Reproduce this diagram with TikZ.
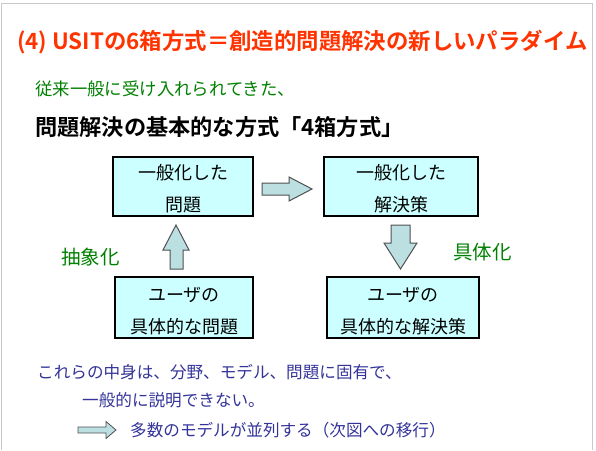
\documentclass[tikz,border=0pt]{standalone}
\usepackage{fontspec}
\newfontfamily\jp{Noto Sans CJK JP}
\newfontfamily\jpb{Noto Sans CJK JP Bold}
\usetikzlibrary{positioning}
\definecolor{titlered}{HTML}{FF3300}
\definecolor{dgreen}{HTML}{008000}
\definecolor{dblue}{HTML}{333399}
\definecolor{boxfill}{HTML}{CCFFFF}
\definecolor{arrfill}{HTML}{BCDFE2}
\definecolor{arrline}{HTML}{505050}
\definecolor{frame}{HTML}{C8C8C8}
\tikzset{
  box/.style={draw=black, line width=2pt, fill=boxfill, inner sep=0pt},
  boxtext/.style={font=\jp\fontsize{18}{18}\selectfont, anchor=center},
  blockarrow/.style={draw=arrline, line width=1pt, fill=arrfill, line join=miter},
  lbl/.style={font=\jp\fontsize{16.6}{16.6}\selectfont, anchor=west, inner sep=0pt}
}
\begin{document}
\begin{tikzpicture}[x=1pt,y=-1pt]
\useasboundingbox (0,0) rectangle (596,450);
% frame
\draw[frame, line width=1pt] (1,450) -- (1,3) -- (592,3) -- (592,450);
% title
\node[anchor=west, inner sep=0pt, text=titlered, font=\jpb\fontsize{22.4}{22.4}\selectfont] (title) at (17,42) {(4) USITの6箱方式＝創造的問題解決の新しいパラダイム};
\node[lbl, text=dgreen, font=\jp\fontsize{17.4}{17.4}\selectfont] (sub1) at (35,89) {従来一般に受け入れられてきた、};
\node[anchor=west, inner sep=0pt, font=\jpb\fontsize{22.2}{22.2}\selectfont] (sub2) at (35,127) {問題解決の基本的な方式「4箱方式」};
% boxes
\node[box, minimum width=140pt, minimum height=59pt] (b1) at (183,186.5) {};
\node[box, minimum width=154pt, minimum height=59pt] (b2) at (401,186.5) {};
\node[box, minimum width=138pt, minimum height=61pt] (b3) at (184,307.5) {};
\node[box, minimum width=152pt, minimum height=61pt] (b4) at (403,307.5) {};
\node[boxtext] (t1a) at (183,173) {一般化した};
\node[boxtext] (t1b) at (183,205) {問題};
\node[boxtext] (t2a) at (401,173) {一般化した};
\node[boxtext] (t2b) at (401,205) {解決策};
\node[boxtext] (t3a) at (184,295) {ユーザの};
\node[boxtext] (t3b) at (184,327) {具体的な問題};
\node[boxtext] (t4a) at (403,295) {ユーザの};
\node[boxtext] (t4b) at (403,327) {具体的な解決策};
% block arrows
\draw[blockarrow] (262,183) -- (289,183) -- (289,177) -- (312,189) -- (289,201) -- (289,195) -- (262,195) -- cycle;
\draw[blockarrow] (170,269) -- (170,250) -- (163,250) -- (176,225) -- (189,250) -- (183,250) -- (183,269) -- cycle;
\draw[blockarrow] (391,225) -- (410,225) -- (410,243) -- (417,243) -- (400.5,269) -- (384,243) -- (391,243) -- cycle;
\node[lbl, text=dgreen, font=\jp\fontsize{19.5}{19.5}\selectfont] (abs) at (61,257) {抽象化};
\node[lbl, text=dgreen, font=\jp\fontsize{19.5}{19.5}\selectfont] (con) at (453,252) {具体化};
% bottom text
\node[lbl, text=dblue] (c1) at (37,372) {これらの中身は、分野、モデル、問題に固有で、};
\node[lbl, text=dblue] (c2) at (82,400) {一般的に説明できない。};
\draw[blockarrow, line width=0.8pt] (78,427) -- (106,427) -- (106,421.5) -- (116,430) -- (106,438.5) -- (106,433) -- (78,433) -- cycle;
\node[lbl, text=dblue] (c3) at (130,430) {多数のモデルが並列する（次図への移行）};
\end{tikzpicture}
\end{document}
